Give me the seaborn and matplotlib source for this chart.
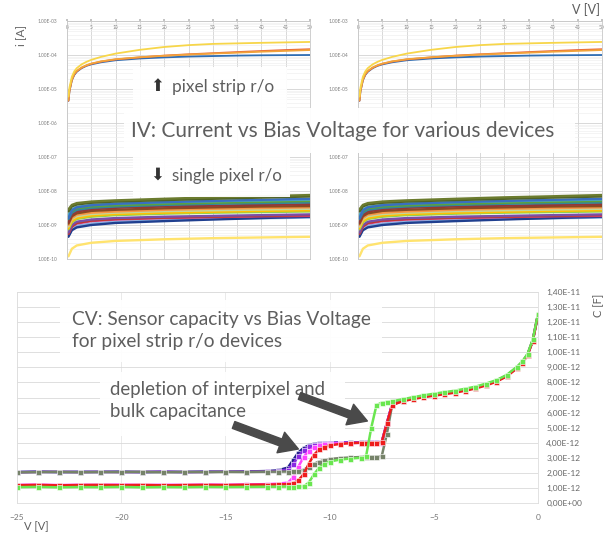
import numpy as np
import pandas as pd
import matplotlib
matplotlib.use("Agg")
import matplotlib.pyplot as plt
import seaborn as sns
from matplotlib.patches import Rectangle, FancyArrowPatch
from matplotlib.ticker import FuncFormatter, LogLocator, MultipleLocator, NullFormatter

sns.set_theme(style="white")
plt.rcParams['font.family'] = ['Lato', 'DejaVu Sans']

# ---------- IV: pixel strip r/o (A) ----------
iv_volt = [0.3, 0.5, 1, 1.5, 2, 3, 4, 5, 7, 10, 15, 20, 25, 30, 35, 40, 45, 50]
strip_blue = [4.5e-6, 8.5e-6, 1.8e-5, 2.6e-5, 3.2e-5, 4.1e-5, 4.8e-5, 5.3e-5, 6.1e-5,
              7.0e-5, 7.9e-5, 8.5e-5, 9.0e-5, 9.3e-5, 9.6e-5, 9.8e-5, 9.9e-5, 1.0e-4]
strip_orange = [4.7e-6, 9.0e-6, 1.9e-5, 2.8e-5, 3.4e-5, 4.3e-5, 5.0e-5, 5.6e-5, 6.5e-5,
                7.5e-5, 8.6e-5, 9.5e-5, 1.03e-4, 1.10e-4, 1.17e-4, 1.25e-4, 1.32e-4, 1.40e-4]
strip_red = [4.5e-6, 8.7e-6, 1.85e-5, 2.7e-5, 3.3e-5, 4.2e-5, 4.9e-5, 5.5e-5, 6.4e-5,
             7.4e-5, 8.5e-5, 9.6e-5, 1.05e-4, 1.13e-4, 1.22e-4, 1.31e-4, 1.40e-4, 1.48e-4]
strip_yellow = [6.0e-6, 1.1e-5, 2.3e-5, 3.3e-5, 4.1e-5, 5.3e-5, 6.3e-5, 7.2e-5, 8.8e-5,
                1.10e-4, 1.42e-4, 1.72e-4, 1.95e-4, 2.12e-4, 2.20e-4, 2.28e-4, 2.35e-4, 2.42e-4]

# ---------- IV: single pixel r/o (nA) ----------
sp_volt = [0.3, 1, 2, 5, 10, 20, 30, 40, 50]
sp_olive = [2.9, 3.9, 4.4, 4.9, 5.3, 5.9, 6.5, 7.0, 7.6]
sp_dkgreen = [2.5, 3.5, 4.0, 4.5, 4.9, 5.4, 5.9, 6.4, 6.9]
sp_blue = [1.6, 2.7, 3.3, 3.8, 4.2, 4.7, 5.1, 5.5, 5.9]
sp_aqua = [2.0, 2.9, 3.4, 3.9, 4.3, 4.7, 5.0, 5.3, 5.6]
sp_green = [1.8, 2.6, 3.1, 3.5, 3.8, 4.2, 4.5, 4.8, 5.1]
sp_teal = [1.5, 2.3, 2.8, 3.2, 3.5, 3.9, 4.2, 4.4, 4.6]
sp_dkred = [1.2, 2.0, 2.5, 2.9, 3.2, 3.5, 3.7, 3.9, 4.1]
sp_brown = [1.1, 1.8, 2.2, 2.6, 2.8, 3.1, 3.3, 3.5, 3.6]
sp_orange = [1.0, 1.6, 2.0, 2.3, 2.5, 2.8, 3.0, 3.15, 3.3]
sp_ygreen = [0.9, 1.5, 1.8, 2.1, 2.3, 2.55, 2.7, 2.85, 3.0]
sp_gold = [0.8, 1.3, 1.6, 1.9, 2.1, 2.3, 2.45, 2.6, 2.7]
sp_lgreen = [0.75, 1.2, 1.5, 1.75, 1.95, 2.15, 2.3, 2.4, 2.5]
sp_purple = [0.6, 1.0, 1.25, 1.45, 1.6, 1.75, 1.85, 1.95, 2.05]
sp_red = [0.55, 0.9, 1.15, 1.35, 1.5, 1.65, 1.75, 1.85, 1.95]
sp_magenta = [0.55, 0.9, 1.1, 1.3, 1.45, 1.6, 1.7, 1.8, 1.85]
sp_navy = [0.45, 0.7, 0.85, 1.0, 1.15, 1.3, 1.45, 1.6, 1.75]
sp_lblue = [0.5, 0.75, 0.95, 1.1, 1.25, 1.4, 1.5, 1.58, 1.65]
sp_yellow = [0.12, 0.2, 0.25, 0.3, 0.34, 0.38, 0.41, 0.43, 0.45]

# ---------- CV: pixel strip r/o (pF) ----------
cv_volt = [-25, -24, -23, -22, -21, -20, -19, -18, -17, -16, -15, -14, -13,
           -12.5, -12, -11.75, -11.5, -11.25, -11, -10.75, -10.5, -10.25, -10,
           -9.5, -9, -8.5, -8.25, -8, -7.75, -7.5, -7.25, -7,
           -6.5, -6, -5.5, -5, -4.5, -4, -3.5, -3, -2.5, -2, -1.5, -1, -0.75, -0.5, -0.25, 0]
cv_tail = [6.8, 6.95, 7.07, 7.18, 7.28, 7.38, 7.5, 7.65, 7.85, 8.1, 8.45, 9.0, 9.35, 9.85, 10.8, 12.5]
cv_navy = [2.06, 2.08, 2.05, 2.07, 2.06, 2.08, 2.05, 2.07, 2.06, 2.08, 2.07, 2.09, 2.12,
           2.16, 2.35, 2.85, 3.35, 3.65, 3.83, 3.92, 3.96, 3.98, 4.0,
           4.01, 4.02, 4.02, 4.02, 4.03, 4.03, 4.04, 5.3, 6.55] + cv_tail
cv_purple = [2.04, 2.06, 2.07, 2.05, 2.07, 2.05, 2.06, 2.08, 2.05, 2.06, 2.08, 2.08, 2.1,
             2.12, 2.22, 2.6, 3.1, 3.5, 3.75, 3.87, 3.93, 3.96, 3.98,
             4.0, 4.01, 4.01, 4.02, 4.02, 4.02, 4.03, 5.3, 6.55] + cv_tail
cv_magenta = [1.2, 1.22, 1.19, 1.21, 1.2, 1.22, 1.19, 1.21, 1.2, 1.22, 1.21, 1.23, 1.25,
              1.28, 1.35, 1.7, 2.4, 3.05, 3.45, 3.7, 3.83, 3.9, 3.94,
              3.97, 3.98, 3.99, 3.99, 4.0, 4.0, 4.01, 5.3, 6.5] + cv_tail
cv_gray = [2.03, 2.05, 2.07, 2.04, 2.06, 2.05, 2.07, 2.04, 2.06, 2.05, 2.07, 2.06, 2.08,
           2.08, 2.09, 2.1, 2.12, 2.2, 2.4, 2.6, 2.75, 2.85, 2.92,
           2.98, 3.02, 3.05, 3.06, 3.07, 3.08, 3.1, 4.6, 6.5] + cv_tail
cv_red = [1.18, 1.2, 1.17, 1.19, 1.2, 1.18, 1.2, 1.17, 1.19, 1.2, 1.19, 1.21, 1.22,
          1.23, 1.25, 1.3, 1.5, 1.9, 2.6, 3.2, 3.55, 3.72, 3.82,
          3.92, 3.97, 4.0, 4.0, 4.01, 4.01, 4.02, 5.3, 6.5,
          6.75, 6.9, 7.02, 7.12, 7.22, 7.32, 7.45, 7.6, 7.8, 8.05, 8.4, 8.95, 9.3, 9.8, 10.75, 12.5]
cv_lime = [1.05, 1.07, 1.04, 1.06, 1.05, 1.07, 1.04, 1.06, 1.05, 1.07, 1.06, 1.07, 1.08,
           1.08, 1.09, 1.09, 1.1, 1.1, 1.35, 1.9, 2.35, 2.6, 2.75,
           2.88, 2.95, 3.0, 3.1, 5.0, 6.5, 6.65, 6.7, 6.75,
           6.88, 7.02, 7.14, 7.25, 7.35, 7.45, 7.58, 7.72, 7.92, 8.15, 8.5, 9.05, 9.4, 9.9, 10.85, 12.55]

# ---------- tablas largas para seaborn ----------
strip_series = {'blue': strip_blue, 'red': strip_red, 'orange': strip_orange, 'yellow': strip_yellow}
strip_colors = {'yellow': '#f7d64a', 'orange': '#f2a33a', 'red': '#e8643c', 'blue': '#2f6db3'}
strip_df = pd.concat([pd.DataFrame({'V': iv_volt, 'I': vals, 'curve': k})
                      for k, vals in strip_series.items()])

sp_series = {'yellow': sp_yellow, 'lblue': sp_lblue, 'navy': sp_navy, 'magenta': sp_magenta,
             'red': sp_red, 'purple': sp_purple, 'lgreen': sp_lgreen, 'gold': sp_gold,
             'ygreen': sp_ygreen, 'orange': sp_orange, 'brown': sp_brown, 'dkred': sp_dkred,
             'teal': sp_teal, 'green': sp_green, 'aqua': sp_aqua, 'blue': sp_blue,
             'dkgreen': sp_dkgreen, 'olive': sp_olive}
sp_colors = {'yellow': '#ffe36e', 'lblue': '#8db3e2', 'navy': '#1f3f8f', 'magenta': '#d23c8c',
             'red': '#c0392b', 'purple': '#7a4fa8', 'lgreen': '#92d050', 'gold': '#ffc000',
             'ygreen': '#c3d69b', 'orange': '#f79646', 'brown': '#8a4b22', 'dkred': '#953735',
             'teal': '#31859c', 'green': '#5aa040', 'aqua': '#4bacc6', 'blue': '#3a6fc0',
             'dkgreen': '#4f6228', 'olive': '#6b7b2e'}
sp_df = pd.concat([pd.DataFrame({'V': sp_volt, 'I': np.array(vals) * 1e-9, 'curve': k})
                   for k, vals in sp_series.items()])

cv_series = {'navy': cv_navy, 'purple': cv_purple, 'magenta': cv_magenta,
             'gray': cv_gray, 'red': cv_red, 'lime': cv_lime}
cv_colors = {'navy': '#23238c', 'purple': '#8a2be2', 'magenta': '#ff44ff',
             'gray': '#76836a', 'red': '#ee1c1c', 'lime': '#6ae650'}
cv_df = pd.concat([pd.DataFrame({'V': cv_volt, 'C': vals, 'curve': k})
                   for k, vals in cv_series.items()])

# ---------- figura ----------
W, H = 610, 535
fig = plt.figure(figsize=(6.1, 5.35), dpi=100)


def box(x0, y0, x1, y1):
    return [x0 / W, 1 - y1 / H, (x1 - x0) / W, (y1 - y0) / H]


def ftext(x, y, s, **kw):
    fig.text(x / W, 1 - y / H, s, **kw)


grey_txt = '#5e5e5e'


def draw_iv(ax, hide=()):
    sns.lineplot(data=sp_df, x='V', y='I', hue='curve', palette=sp_colors, hue_order=list(sp_series),
                 estimator=None, sort=False, legend=False, lw=1.7, ax=ax)
    sns.lineplot(data=strip_df, x='V', y='I', hue='curve', palette=strip_colors,
                 hue_order=list(strip_series), estimator=None, sort=False, legend=False, lw=1.3, ax=ax)
    ax.set_yscale('log')
    ax.set_xlim(0, 50)
    ax.set_ylim(1e-10, 1e-3)
    ax.set_xlabel('')
    ax.set_ylabel('')
    ax.xaxis.set_major_locator(MultipleLocator(5))
    ax.yaxis.set_major_locator(LogLocator(base=10, numticks=20))
    ax.yaxis.set_minor_locator(LogLocator(base=10, subs=np.arange(2, 10), numticks=100))
    ax.yaxis.set_minor_formatter(NullFormatter())
    ax.yaxis.set_major_formatter(FuncFormatter(
        lambda v, p: '' if any(abs(np.log10(v) - np.log10(h)) < 0.01 for h in hide) else f"{v:.2E}"))
    ax.tick_params(axis='x', top=True, labeltop=True, bottom=False, labelbottom=False,
                   labelsize=3.5, labelcolor='#808080', length=1.5, pad=-8, color='#bbbbbb')
    ax.tick_params(axis='y', which='major', labelsize=3.5, labelcolor='#808080', length=0, pad=7)
    ax.tick_params(axis='y', which='minor', length=0)
    ax.set_axisbelow(True)
    ax.grid(True, which='major', color='#d2d2d2', lw=0.6)
    ax.grid(True, which='minor', axis='y', color='#ececec', lw=0.4)
    for s in ax.spines.values():
        s.set_color('#c8c8c8')
        s.set_linewidth(0.6)


ax_l = fig.add_axes(box(67, 21, 310, 259))
ax_r = fig.add_axes(box(358, 21, 602, 259))
draw_iv(ax_l)
draw_iv(ax_r, hide=(1e-6,))

# CV
ax_cv = fig.add_axes(box(17, 292, 538, 503))
sns.lineplot(data=cv_df, x='V', y='C', hue='curve', palette=cv_colors, hue_order=list(cv_series),
             estimator=None, sort=False, legend=False, lw=1.8, marker='s', markersize=3.6,
             markeredgewidth=0.4, ax=ax_cv)
ax_cv.set_xlim(-25, 0)
ax_cv.set_ylim(0, 14)
ax_cv.set_xlabel('')
ax_cv.set_ylabel('')
ax_cv.yaxis.tick_right()
ax_cv.xaxis.set_major_locator(MultipleLocator(5))
ax_cv.yaxis.set_major_locator(MultipleLocator(1))
ax_cv.yaxis.set_major_formatter(FuncFormatter(lambda v, p: f"{v * 1e-12:.2E}".replace('.', ',')))
ax_cv.tick_params(axis='y', labelsize=6, labelcolor='#666666', length=0, pad=6)
ax_cv.tick_params(axis='x', labelsize=6, labelcolor='#777777', length=0, pad=8)
ax_cv.set_axisbelow(True)
ax_cv.grid(True, axis='y', color='#d9d9d9', lw=0.6)
ax_cv.grid(True, axis='x', color='#e6e6e6', lw=0.6)
for s in ax_cv.spines.values():
    s.set_color('#dddddd')
    s.set_linewidth(0.6)

# cajas blancas de texto
for x0, y0, x1, y1 in [(124, 108, 575, 153), (133, 67, 287, 108), (133, 153, 290, 197),
                       (60, 300, 382, 362), (100, 372, 345, 436)]:
    fig.add_artist(Rectangle((x0 / W, 1 - y1 / H), (x1 - x0) / W, (y1 - y0) / H,
                             transform=fig.transFigure, facecolor='white', edgecolor='none',
                             alpha=0.95, zorder=2))

tkw = dict(color=grey_txt, va='center', zorder=5)
ftext(131, 131, "IV: Current vs Bias Voltage for various devices", fontsize=15, **tkw)
ftext(150, 86, "\u2b06", fontsize=12, color='#333333', va='center', zorder=5)
ftext(172, 87, "pixel strip r/o", fontsize=12.4, **tkw)
ftext(150, 175, "\u2b07", fontsize=12, color='#333333', va='center', zorder=5)
ftext(172, 176, "single pixel r/o", fontsize=12.2, **tkw)

ftext(72, 320, "CV: Sensor capacity vs Bias Voltage", fontsize=13.8, **tkw)
ftext(72, 342, "for pixel strip r/o devices", fontsize=13.8, **tkw)
ftext(110, 390, "depletion of interpixel and", fontsize=13.4, **tkw)
ftext(110, 411, "bulk capacitance", fontsize=13.4, **tkw)

# ejes / unidades
ftext(21, 35, "i [A]", fontsize=8.5, color='#666666', rotation=90, ha='center', va='center')
ftext(586, 10, "V [V]", fontsize=9, color=grey_txt, ha='center', va='center')
ftext(36, 527, "V [V]", fontsize=8, color=grey_txt, ha='center', va='center')
ftext(599, 305, "C [F]", fontsize=8, color=grey_txt, rotation=90, ha='center', va='center')

# flechas
for (xa, ya), (xb, yb) in [((231, 424), (301, 450)), ((297, 395), (370, 422))]:
    fig.add_artist(FancyArrowPatch((xa / W, 1 - ya / H), (xb / W, 1 - yb / H),
                                   transform=fig.transFigure,
                                   arrowstyle='simple,head_length=0.9,head_width=1.05,tail_width=0.35',
                                   mutation_scale=15, color='#4a4a4a', zorder=6))

fig.savefig("out.png", dpi=100)
